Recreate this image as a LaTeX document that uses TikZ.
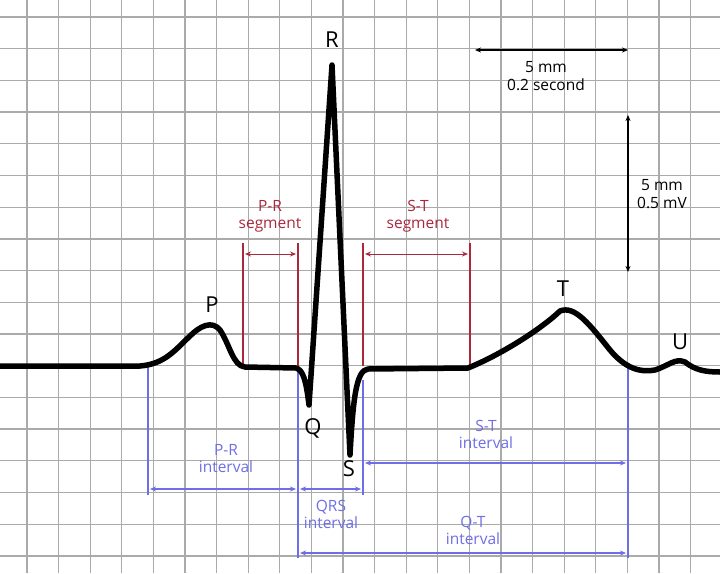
\documentclass[tikz,border=0pt]{standalone}
\usepackage{fontspec}
\setmainfont{Open Sans}
\usetikzlibrary{arrows.meta}
\definecolor{segred}{RGB}{170,40,60}
\definecolor{intblue}{RGB}{110,110,230}
\definecolor{gridgray}{RGB}{170,170,170}
\begin{document}
\begin{tikzpicture}[x=1pt,y=-1pt,
  lbl/.style={font=\fontsize{22}{24}\selectfont, inner sep=0pt},
  small/.style={font=\fontsize{15.5}{17}\selectfont, inner sep=0pt, align=center},
  redl/.style={segred, line width=1.6pt},
  bluel/.style={intblue, line width=1.8pt},
  dim/.style={{Stealth[length=6pt,width=5pt]}-{Stealth[length=6pt,width=5pt]}}]
\useasboundingbox (0,0) rectangle (720,573);
\fill[white] (0,0) rectangle (720,573);
\foreach \i in {0,...,22} \draw[gridgray, line width=1.3pt] ({27+31.6*\i},0) -- ({27+31.6*\i},573);
\foreach \i in {0,...,17} \draw[gridgray, line width=1.3pt] (0,{17+31.7*\i}) -- (720,{17+31.7*\i});
% red segments
\coordinate (ra1) at (243,243); \coordinate (ra2) at (243,366);
\coordinate (rb1) at (298,243); \coordinate (rb2) at (298,366);
\coordinate (rc1) at (363,243); \coordinate (rc2) at (363,366);
\coordinate (rd1) at (470,243); \coordinate (rd2) at (470,366);
\draw[redl] (ra1) -- (ra2); \draw[redl] (rb1) -- (rb2);
\draw[redl] (rc1) -- (rc2); \draw[redl] (rd1) -- (rd2);
\coordinate (pa) at (245,254); \coordinate (pb) at (296,254);
\coordinate (sa) at (365,254); \coordinate (sb) at (468,254);
\draw[segred, dim, line width=1pt] (pa) -- (pb);
\draw[segred, dim, line width=1pt] (sa) -- (sb);
\node[small, text=segred] (prs) at (270,216) {P-R\\[0pt]segment};
\node[small, text=segred] (sts) at (418,216) {S-T\\[0pt]segment};
% blue intervals
\coordinate (b1a) at (148,366); \coordinate (b1b) at (148,495);
\coordinate (b2a) at (298,366); \coordinate (b2b) at (298,558);
\coordinate (b3a) at (363,380); \coordinate (b3b) at (363,495);
\coordinate (b4a) at (628,366); \coordinate (b4b) at (628,558);
\draw[bluel] (b1a) -- (b1b); \draw[bluel] (b2a) -- (b2b);
\draw[bluel] (b3a) -- (b3b); \draw[bluel] (b4a) -- (b4b);
\coordinate (i1a) at (150,489); \coordinate (i1b) at (296,489);
\coordinate (i2a) at (300,489); \coordinate (i2b) at (361,489);
\coordinate (i3a) at (365,463); \coordinate (i3b) at (626,463);
\coordinate (i4a) at (300,553); \coordinate (i4b) at (626,553);
\draw[intblue, dim, line width=1.1pt] (i1a) -- (i1b);
\draw[intblue, dim, line width=1.1pt] (i2a) -- (i2b);
\draw[intblue, dim, line width=1.1pt] (i3a) -- (i3b);
\draw[intblue, dim, line width=1.1pt] (i4a) -- (i4b);
\node[small, text=intblue] (pri) at (226,459) {P-R\\[0pt]interval};
\node[small, text=intblue] (qrsi) at (331,514) {QRS\\[0pt]interval};
\node[small, text=intblue] (sti) at (486,434) {S-T\\[0pt]interval};
\node[small, text=intblue] (qti) at (473,530) {Q-T\\[0pt]interval};
% ECG trace
\draw[line width=5.5pt, line join=round, line cap=round]
 (0,366) -- (140,366) .. controls (165,364) and (175,350) .. (190,336)
 .. controls (200,326) and (212,320) .. (220,330)
 .. controls (230,345) and (233,366) .. (245,367) -- (296,368)
 .. controls (303,370) and (306,380) .. (309,405)
 -- (332,65) -- (350,455)
 .. controls (353,400) and (356,370) .. (368,369) -- (468,368)
 .. controls (500,355) and (540,330) .. (560,311)
 .. controls (575,305) and (590,325) .. (610,350)
 .. controls (625,368) and (640,373) .. (655,370)
 .. controls (670,365) and (675,358) .. (685,362)
 .. controls (695,370) and (705,372) .. (720,372);
% labels
\node[lbl] (R) at (332,40) {R};
\node[lbl] (P) at (212,305) {P};
\node[lbl] (Q) at (313,428) {Q};
\node[lbl] (S) at (349,469) {S};
\node[lbl] (T) at (563,289) {T};
\node[lbl] (U) at (680,342) {U};
% scale
\coordinate (h1) at (475,50); \coordinate (h2) at (628,50);
\draw[dim, line width=1.2pt] (h1) -- (h2);
\node[small] (ht) at (546,76) {5 mm\\[1pt]0.2 second};
\coordinate (v1) at (628,115); \coordinate (v2) at (628,272);
\draw[dim, line width=1.2pt] (v1) -- (v2);
\node[small] (vt) at (662,194) {5 mm\\[1pt]0.5 mV};
\end{tikzpicture}
\end{document}
